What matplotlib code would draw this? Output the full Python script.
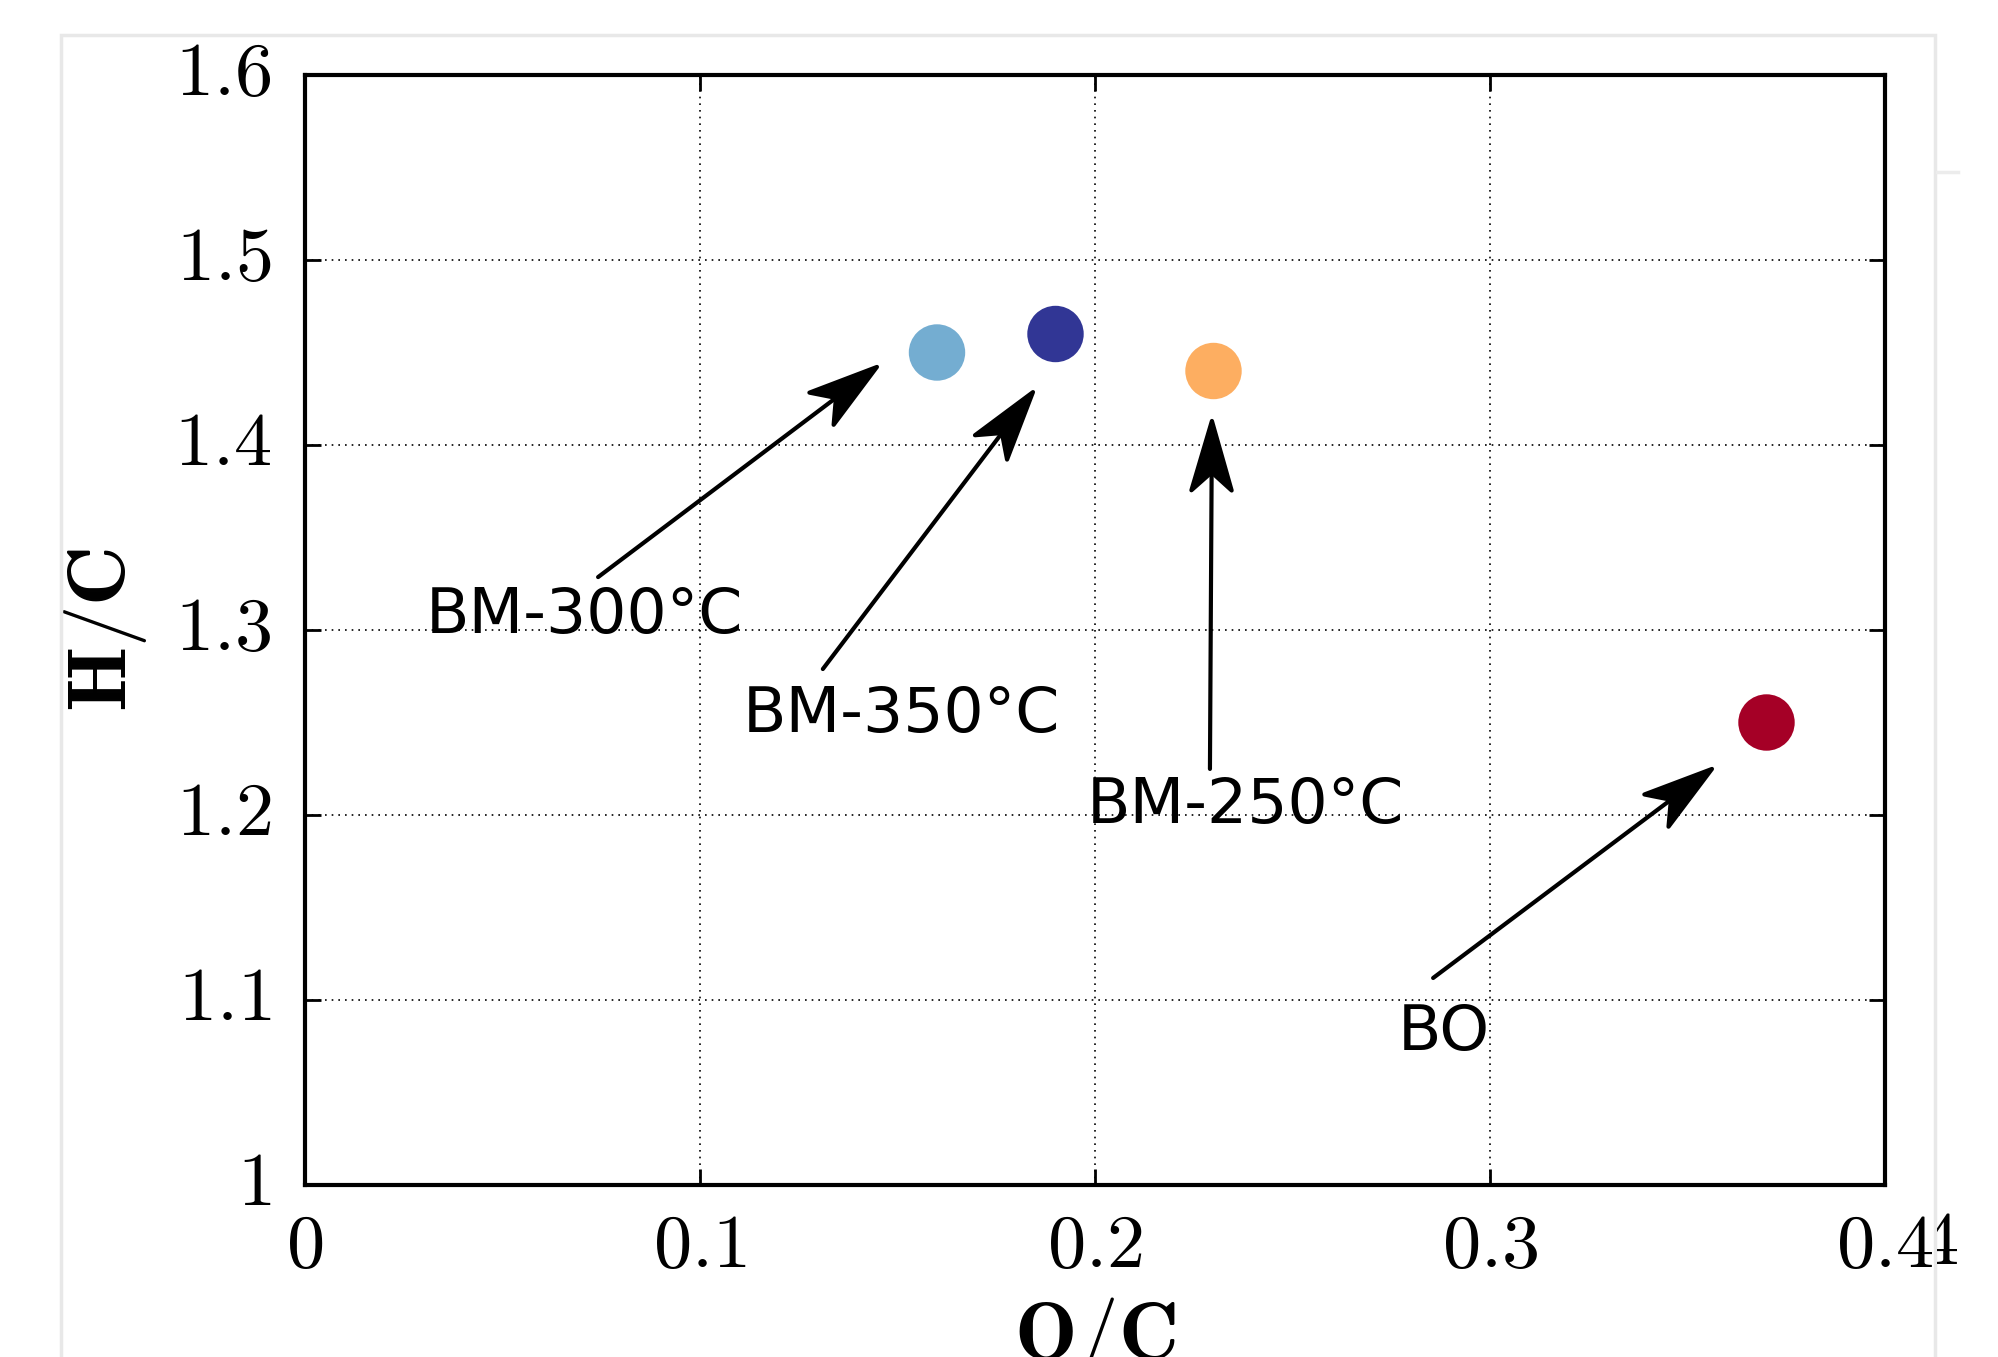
import numpy as np
import matplotlib
matplotlib.use("Agg")
import matplotlib.pyplot as plt
from matplotlib.patches import ArrowStyle, Rectangle
from matplotlib.path import Path
from matplotlib.lines import Line2D
from matplotlib.transforms import Bbox, TransformedBbox, ScaledTranslation

plt.rcParams['mathtext.fontset'] = 'cm'

# samples: O/C and H/C ratios
names = ["BM-300°C", "BM-350°C", "BM-250°C", "BO"]
oc = [0.16, 0.19, 0.23, 0.37]
hc = [1.45, 1.46, 1.44, 1.25]
colors = ["#74add1", "#313695", "#fdae61", "#a50026"]

# label positions (center x, baseline y) in data units
label_x = [0.0708, 0.1511, 0.2380, 0.2882]
label_y = [1.2984, 1.2449, 1.1957, 1.0730]

# arrows: tail -> tip, data units
tail_x = [0.0742, 0.1311, 0.2291, 0.2856]
tail_y = [1.3286, 1.2789, 1.2249, 1.1119]
tip_x = [0.1448, 0.1843, 0.2296, 0.3562]
tip_y = [1.4422, 1.4286, 1.4130, 1.2249]

xticks = [0, 0.1, 0.2, 0.3, 0.4]
yticks = [1, 1.1, 1.2, 1.3, 1.4, 1.5, 1.6]


class NotchedArrow(ArrowStyle._Base):
    # filled arrow head with a notch at the back (like gnuplot's heads)
    def __init__(self, head_length=50, head_width=14.5, notch=37):
        self.head_length = head_length
        self.head_width = head_width
        self.notch = notch
        super().__init__()

    def transmute(self, path, mutation_size, linewidth):
        x0, y0 = path.vertices[0]
        x1, y1 = path.vertices[-1]
        d = np.hypot(x1 - x0, y1 - y0)
        ux, uy = (x1 - x0) / d, (y1 - y0) / d
        hl = self.head_length * mutation_size
        hw = self.head_width * mutation_size
        nb = self.notch * mutation_size
        bx, by = x1 - ux * hl, y1 - uy * hl
        nx, ny = x1 - ux * nb, y1 - uy * nb
        head = Path([(x1, y1), (bx - uy * hw, by + ux * hw), (nx, ny),
                     (bx + uy * hw, by - ux * hw), (x1, y1)], closed=True)
        line = Path([(x0, y0), (nx, ny)])
        return [line, head], [False, True]


fig = plt.figure(figsize=(19.99, 13.57), dpi=100)
ax = fig.add_axes([305 / 1999, 1 - 1185 / 1357, 1580 / 1999, 1110 / 1357])

ax.grid(True, color="black", linestyle=(0, (1, 3)), linewidth=1.2, zorder=0)
ax.set_axisbelow(True)

ax.scatter(oc, hc, s=1650, c=colors, edgecolors="none", zorder=3)

for i in range(len(names)):
    ax.annotate("", xy=(tip_x[i], tip_y[i]), xytext=(tail_x[i], tail_y[i]),
                arrowprops=dict(arrowstyle=NotchedArrow(), mutation_scale=1,
                                color="black", lw=3, shrinkA=0, shrinkB=0),
                zorder=4)
    ax.text(label_x[i], label_y[i], names[i], fontsize=45.5,
            family="DejaVu Sans", ha="center", va="baseline", zorder=5)

ax.set_xlim(0, 0.4)
ax.set_ylim(1, 1.6)
ax.set_xticks(xticks, labels=["$%g$" % t for t in xticks])
ax.set_yticks(yticks, labels=["$%g$" % t for t in yticks])
ax.tick_params(axis="both", direction="in", top=True, right=True,
               length=11.5, width=2, labelsize=55, colors="black")
ax.tick_params(axis="x", pad=17)
ax.tick_params(axis="y", pad=24)
# lift the y tick labels so the digits sit centred on the ticks
lift = ScaledTranslation(0, 6.5 / 72, fig.dpi_scale_trans)
for lab in ax.get_yticklabels():
    lab.set_transform(lab.get_transform() + lift)
for sp in ax.spines.values():
    sp.set_linewidth(3)

ax.set_xlabel(r"$\mathbf{O/C}$", fontsize=60)
ax.set_ylabel(r"$\mathbf{H/C}$", fontsize=60)
ax.xaxis.set_label_coords(0.5, -0.099)
ax.yaxis.set_label_coords(-0.099, 0.5)

# stray clipped "4" right of the last tick label
t4 = fig.text(1958 / 1999, 1 - 1264 / 1357, "$4$", fontsize=55,
              ha="right", va="baseline")
t4.set_clip_on(True)
t4.set_clip_box(TransformedBbox(Bbox([[1937 / 1999, 0], [1, 1]]), fig.transFigure))

# light page frame around the figure
fig.patches.append(Rectangle((61 / 1999, -0.05), (1935 - 61) / 1999, 0.05 + 1 - 35 / 1357,
                             transform=fig.transFigure, fill=False,
                             edgecolor="#e8e8e8", linewidth=2.5))
fig.lines.append(Line2D([1937 / 1999, 1958 / 1999], [1 - 172 / 1357] * 2,
                        transform=fig.transFigure, color="#ececec", linewidth=2.5))

fig.savefig("out.png", dpi=100)
